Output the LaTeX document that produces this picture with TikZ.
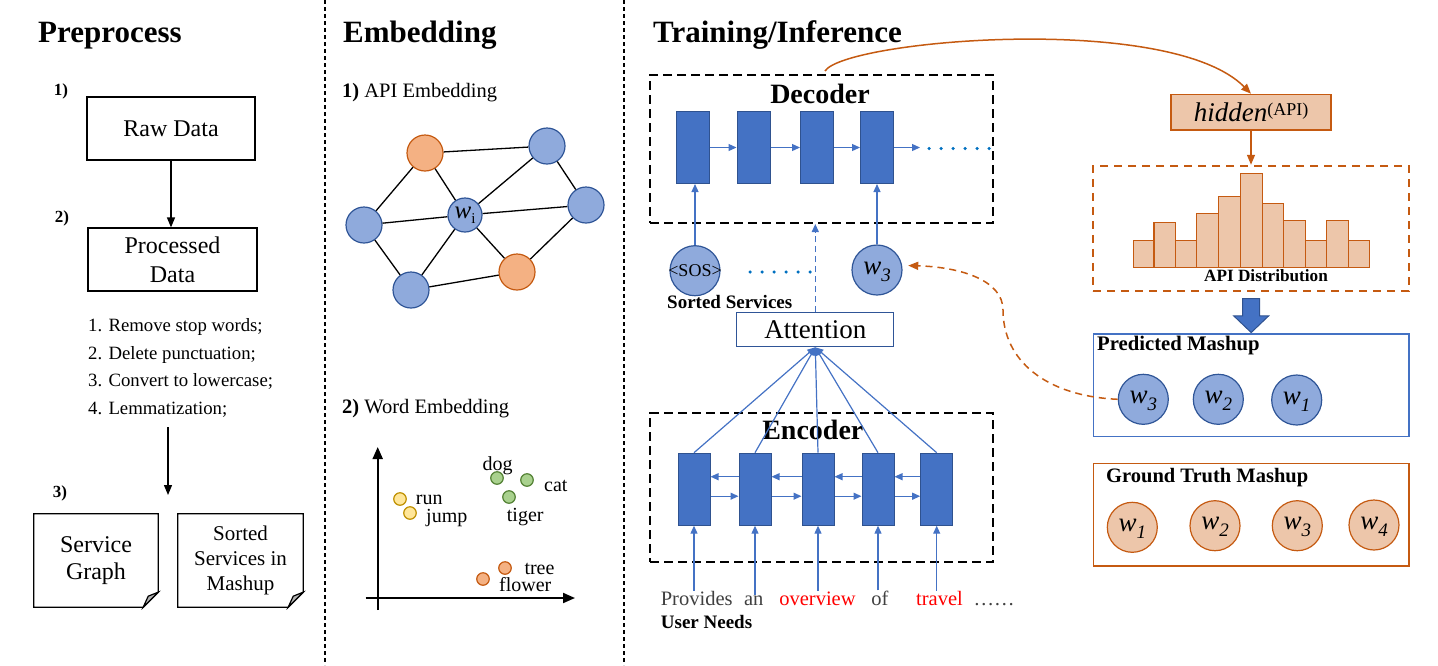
\documentclass[tikz,border=0pt]{standalone}
\usepackage{fontspec}
\setmainfont{Liberation Serif}
\usetikzlibrary{arrows.meta}
\definecolor{cellblue}{HTML}{4472C4}
\definecolor{celledge}{HTML}{2F528F}
\definecolor{lblue}{HTML}{8FAADC}
\definecolor{dblue}{HTML}{2F5597}
\definecolor{orfill}{HTML}{F4B183}
\definecolor{oredge}{HTML}{C55A11}
\definecolor{peach}{HTML}{EDC6AA}
\definecolor{dotblue}{HTML}{0070C0}
\definecolor{yfill}{HTML}{FFE699}
\definecolor{yedge}{HTML}{BF9000}
\definecolor{gfill}{HTML}{A9D18E}
\definecolor{gedge}{HTML}{548235}
\definecolor{txtgray}{HTML}{404040}
\newcommand{\fsz}[1]{\fontsize{#1}{#1}\selectfont}
\newcommand{\wlab}[1]{{\fsz{27}\itshape w}\raisebox{-7pt}{\fsz{19}\itshape #1}}
\begin{document}
\begin{tikzpicture}[x=1pt,y=-1pt,
  divider/.style={draw=black, line width=1.3pt, dash pattern=on 4pt off 3pt},
  ttl/.style={font=\bfseries\fsz{31}, inner sep=0pt, anchor=base west},
  numlbl/.style={font=\bfseries\fsz{17}, inner sep=0pt},
  xbox/.style={draw=black, line width=1.2pt, inner sep=0pt, align=center},
  listtxt/.style={font=\fsz{18.75}, inner sep=0pt, anchor=base west},
  blkarrow/.style={draw=black, line width=1.3pt, -{Triangle[length=10pt,width=8pt]}},
  docline/.style={draw=black, line width=1.2pt},
  gb/.style={circle, draw=dblue, fill=lblue, line width=1.2pt, minimum size=36pt, inner sep=0pt},
  go/.style={circle, draw=oredge, fill=orfill, line width=1.2pt, minimum size=36pt, inner sep=0pt},
  gedge/.style={draw=black, line width=1.3pt},
  subttl/.style={font=\fsz{20.5}, inner sep=0pt, anchor=base west},
  axisline/.style={draw=black, line width=2pt, -{Triangle[length=12pt,width=10pt]}},
  ptY/.style={circle, draw=yedge, fill=yfill, line width=1.2pt, minimum size=12.5pt, inner sep=0pt},
  ptG/.style={circle, draw=gedge, fill=gfill, line width=1.2pt, minimum size=12.5pt, inner sep=0pt},
  ptO/.style={circle, draw=oredge, fill=orfill, line width=1.2pt, minimum size=12.5pt, inner sep=0pt},
  ptlbl/.style={font=\fsz{20}, inner sep=0pt, anchor=base west},
  dashbox/.style={draw=black, line width=2pt, dash pattern=on 9pt off 5pt, inner sep=0pt},
  hdr/.style={font=\bfseries\fsz{28}, inner sep=0pt, anchor=base},
  xcell/.style={draw=celledge, fill=cellblue, line width=1pt, minimum height=72pt, inner sep=0pt},
  barr/.style={draw=cellblue, line width=1.2pt, -{Triangle[length=8pt,width=7pt]}},
  bdots/.style={draw=dotblue, line width=3.5pt, line cap=round, dash pattern=on 0pt off 12pt},
  bcirc/.style={circle, draw=dblue, fill=lblue, line width=1.2pt, minimum size=50pt, inner sep=0pt, text height=11pt, text depth=3pt},
  pcirc/.style={circle, draw=oredge, fill=peach, line width=1.2pt, minimum size=50pt, inner sep=0pt, text height=11pt, text depth=3pt},
  boldlbl/.style={font=\bfseries\fsz{19}, inner sep=0pt, anchor=base west},
  wordtxt/.style={font=\fsz{20.5}, inner sep=0pt, anchor=base},
  orarrow/.style={draw=oredge, line width=1.5pt, -{Triangle[length=10pt,width=8pt]}},
  ordash/.style={draw=oredge, line width=1.8pt, dash pattern=on 8pt off 6pt, inner sep=0pt},
  xbar/.style={draw=oredge, fill=peach, line width=1.3pt}
]
\useasboundingbox (0,0) rectangle (1438,665);
% ---------- dividers
\coordinate (d1t) at (325,0); \coordinate (d1b) at (325,665);
\coordinate (d2t) at (624,0); \coordinate (d2b) at (624,665);
\draw[divider] (d1t) -- (d1b);
\draw[divider] (d2t) -- (d2b);
% ---------- titles
\node[ttl] (t1) at (38,42.7) {Preprocess};
\node[ttl] (t2) at (343,42.7) {Embedding};
\node[ttl] (t3) at (653,42.7) {Training/Inference};
% ---------- preprocess
\node[numlbl] (n1) at (61,91) {1)};
\node[numlbl] (n2) at (62,218) {2)};
\node[numlbl] (n3) at (60,493) {3)};
\node[xbox, minimum width=168pt, minimum height=63pt, font=\fsz{24}] (raw) at (171,128.5) {Raw Data};
\node[xbox, minimum width=169pt, minimum height=63pt, font=\fontsize{24}{29}\selectfont] (proc) at (172.5,259.5) {Processed\\Data};
\draw[blkarrow] (raw.south) -- (raw.south |- proc.north);
\node[listtxt] (l1) at (88,331.7) {1. Remove stop words;};
\node[listtxt] (l2) at (88,359.2) {2. Delete punctuation;};
\node[listtxt] (l3) at (88,386.7) {3. Convert to lowercase;};
\node[listtxt] (l4) at (88,414.2) {4. Lemmatization;};
\coordinate (a3s) at (168,427); \coordinate (a3e) at (168,495);
\draw[blkarrow] (a3s) -- (a3e);
\node[inner sep=0pt, align=center, minimum width=124pt, minimum height=93pt, font=\fontsize{24}{27}\selectfont] (svc) at (96,560.5) {Service\\Graph};
\node[inner sep=0pt, align=center, minimum width=125pt, minimum height=93pt, font=\fontsize{21}{25}\selectfont] (srt) at (240.5,560.5) {Sorted\\Services in\\Mashup};
\foreach \n in {svc,srt} {
  \draw[docline] (\n.north west) -- (\n.north east) -- ([yshift=15pt]\n.south east) -- ([xshift=-15pt]\n.south east) -- (\n.south west) -- cycle;
  \filldraw[docline, fill=black!30] ([yshift=15pt]\n.south east) -- ([xshift=-15pt]\n.south east) -- ([xshift=-10pt,yshift=11pt]\n.south east) -- cycle;
}
% ---------- embedding graph
\node[subttl] (e1t) at (342,97.3) {\textbf{1)} API Embedding};
\node[gb] (g1) at (547,146) {};
\node[go] (g2) at (425,153) {};
\node[gb] (g3) at (364,225) {};
\node[gb, minimum size=34pt] (gc) at (465,215) {{\fsz{25}\itshape w}\raisebox{-5pt}{\fsz{15}i}};
\node[gb] (g4) at (586,205) {};
\node[go] (g5) at (517,272) {};
\node[gb] (g6) at (411,290) {};
\draw[gedge] (g2) -- (g1);
\draw[gedge] (g2) -- (g3);
\draw[gedge] (g2) -- (gc);
\draw[gedge] (g3) -- (gc);
\draw[gedge] (g3) -- (g6);
\draw[gedge] (gc) -- (g1);
\draw[gedge] (gc) -- (g4);
\draw[gedge] (gc) -- (g6);
\draw[gedge] (gc) -- (g5);
\draw[gedge] (g1) -- (g4);
\draw[gedge] (g4) -- (g5);
\draw[gedge] (g6) -- (g5);
% ---------- word embedding
\node[subttl] (e2t) at (342,413.3) {\textbf{2)} Word Embedding};
\coordinate (ox) at (365.7,598); \coordinate (xe) at (575,598);
\coordinate (oy) at (377.7,610); \coordinate (ye) at (377.7,447);
\draw[axisline] (ox) -- (xe);
\draw[axisline] (oy) -- (ye);
\node[ptY] (prun) at (400,499) {};
\node[ptY] (pjump) at (410,513) {};
\node[ptG] (pdog) at (497,478) {};
\node[ptG] (pcat) at (527,480) {};
\node[ptG] (ptiger) at (509,497) {};
\node[ptO] (ptree) at (505,568) {};
\node[ptO] (pflower) at (483,579) {};
\node[ptlbl] (lrun) at (415.7,504.5) {run};
\node[ptlbl] (ljump) at (426,522.5) {jump};
\node[ptlbl] (ldog) at (482.3,470) {dog};
\node[ptlbl] (lcat) at (544,491.7) {cat};
\node[ptlbl] (ltiger) at (506.7,521.7) {tiger};
\node[ptlbl] (ltree) at (524.3,574) {tree};
\node[ptlbl] (lflower) at (499,591.5) {flower};
% ---------- decoder
\node[dashbox, minimum width=343pt, minimum height=148pt] (decbox) at (821.5,149) {};
\node[hdr] (dect) at (820,103.3) {Decoder};
\node[xcell, minimum width=33pt] (d1) at (693,147.5) {};
\node[xcell, minimum width=33pt] (d2) at (753.5,147.5) {};
\node[xcell, minimum width=33pt] (d3) at (817,147.5) {};
\node[xcell, minimum width=33pt] (d4) at (877,147.5) {};
\draw[barr] (d1) -- (d2);
\draw[barr] (d2) -- (d3);
\draw[barr] (d3) -- (d4);
\coordinate (dend) at (920,147.5);
\draw[barr] (d4) -- (dend);
\coordinate (ds1) at (929,148.5); \coordinate (ds2) at (989,148.5);
\draw[bdots] (ds1) -- (ds2);
\node[bcirc, label={[font=\fsz{18}, inner sep=0pt]center:{<SOS>}}] (sos) at (695,270.7) {};
\node[bcirc] (dw3) at (877,270) {\wlab{3}};
\draw[barr] (sos.north) -- (sos.north |- d1.south);
\draw[barr] (dw3) -- (d4);
\coordinate (sd1) at (750,272); \coordinate (sd2) at (810,272);
\draw[bdots] (sd1) -- (sd2);
\node[boldlbl] (sortedlbl) at (667,308.3) {Sorted Services};
\node[draw=dblue, line width=1.2pt, minimum width=157pt, minimum height=34pt, inner sep=0pt, font=\fsz{27}] (att) at (815.3,329.7) {Attention};
\draw[barr, dash pattern=on 6pt off 4pt] (att.north) -- (att.north |- decbox.south);
% ---------- encoder
\node[dashbox, minimum width=343pt, minimum height=148.7pt] (encbox) at (821.5,487.3) {};
\node[hdr] (enct) at (812.8,439.3) {Encoder};
\node[xcell, minimum width=32pt] (e1) at (694,489.2) {};
\node[xcell, minimum width=32pt] (e2) at (755,489.2) {};
\node[xcell, minimum width=32pt] (e3) at (818,489.2) {};
\node[xcell, minimum width=32pt] (e4) at (878,489.2) {};
\node[xcell, minimum width=32pt] (e5) at (936.7,489.2) {};
\foreach \a/\b in {e1/e2,e2/e3,e3/e4,e4/e5} {
  \draw[barr] ([yshift=12.5pt]\b.west) -- ([yshift=12.5pt]\a.east);
  \draw[barr] ([yshift=-7pt]\a.east) -- ([yshift=-7pt]\b.west);
}
\foreach \a in {e1,e2,e3,e4,e5} {
  \draw[barr] (\a.north) -- (att.south);
}
\node[wordtxt, text=txtgray] (w1) at (696.7,605) {Provides};
\node[wordtxt, text=txtgray] (w2) at (753.7,605) {an};
\node[wordtxt, text=red] (w3) at (817.5,605) {overview};
\node[wordtxt, text=txtgray] (w4) at (880,605) {of};
\node[wordtxt, text=red] (w5) at (939.5,605) {travel};
\node[wordtxt, text=txtgray] (w6) at (994,605) {……};
\draw[barr] (e1.south |- w1.north) -- (e1.south);
\draw[barr] (e2.south |- w2.north) -- (e2.south);
\draw[barr] (e3.south |- w3.north) -- (e3.south);
\draw[barr] (e4.south |- w4.north) -- (e4.south);
\draw[barr] (e5.south |- w5.north) -- (e5.south);
\node[boldlbl] (un) at (660.7,628.3) {User Needs};
% ---------- right side
\node[draw=oredge, fill=peach, line width=1.3pt, minimum width=160pt, minimum height=35.7pt, inner sep=0pt] (hid) at (1251,112.2) {{\fsz{27}\itshape hidden}\raisebox{6.5pt}{\fsz{18}(API)}};
\draw[orarrow] ([xshift=3.5pt,yshift=3pt]decbox.north) .. controls (845,40) and (1170,12) .. (hid.north);
\node[ordash, minimum width=315.7pt, minimum height=125.3pt] (distbox) at (1251.2,228.3) {};
\draw[orarrow] (hid.south) -- (hid.south |- distbox.north);
\foreach \a/\b/\t in {1133.3/1154/240.7, 1154/1175.7/222.3, 1175.7/1196.7/240.7, 1196.7/1218.3/213.7, 1218.3/1240.3/196.3, 1240.3/1262.3/173.7, 1262.3/1283.3/203.3, 1283.3/1305.7/220.7, 1305.7/1326.7/240.7, 1326.7/1348.3/220.7, 1348.3/1369.3/240.7}
  \draw[xbar] (\a,267.7) rectangle (\b,\t);
\node[font=\bfseries\fsz{17.2}, inner sep=0pt, anchor=base] (distlbl) at (1266,281.7) {API Distribution};
\filldraw[fill=cellblue, draw=celledge, line width=1pt] ([xshift=-8.5pt,yshift=-6.7pt]distbox.south) -- ++(17,0) -- ++(0,17.3) -- ++(9,0) -- ++(-17.5,16.7) -- ++(-17.5,-16.7) -- ++(9,0) -- cycle;
\node[draw=cellblue, line width=1.5pt, minimum width=315.7pt, minimum height=102.7pt, inner sep=0pt] (predbox) at (1251.2,385.3) {};
\node[font=\bfseries\fsz{20.7}, inner sep=0pt, anchor=base west] (predlbl) at (1097,350.7) {Predicted Mashup};
\node[bcirc] (pw3) at (1143.3,399.3) {\wlab{3}};
\node[bcirc] (pw2) at (1218.3,399.3) {\wlab{2}};
\node[bcirc] (pw1) at (1296.7,400) {\wlab{1}};
\node[draw=oredge, line width=1.5pt, minimum width=315.7pt, minimum height=102.7pt, inner sep=0pt] (gtbox) at (1251.2,514.7) {};
\node[font=\bfseries\fsz{20.5}, inner sep=0pt, anchor=base west] (gtlbl) at (1106,482.7) {Ground Truth Mashup};
\node[pcirc] (gw1) at (1132.3,527.3) {\wlab{1}};
\node[pcirc] (gw2) at (1215,525.7) {\wlab{2}};
\node[pcirc] (gw3) at (1297.3,525.7) {\wlab{3}};
\node[pcirc] (gw4) at (1374,525) {\wlab{4}};
\draw[orarrow, dash pattern=on 7pt off 5pt] (pw3.west) .. controls (1045,396) and (1003,360) .. (1003,310) .. controls (1003,280) and (960,267) .. ([xshift=6pt]dw3.10);
\end{tikzpicture}
\end{document}
